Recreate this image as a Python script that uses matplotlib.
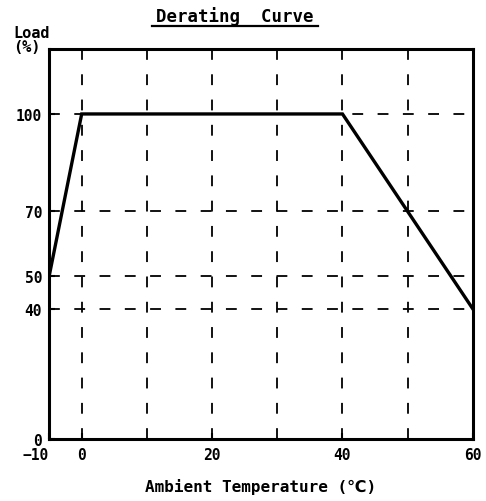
import numpy as np
import matplotlib
matplotlib.use('Agg')
import matplotlib.pyplot as plt
from matplotlib.lines import Line2D

plt.rcParams['font.family'] = ['DejaVu Sans Mono', 'DejaVu Sans']

# derating curve points
temp = [-10, 0, 40, 60]
load = [50, 100, 100, 40]

x_ticks = [-10, 0, 20, 40, 60]
y_ticks = [0, 40, 50, 70, 100]
x_grid = [0, 10, 20, 30, 40, 50]
y_grid = [40, 50, 70, 100]


# the -10..0 span is drawn at half scale on the original sheet
def fwd(x):
    x = np.asarray(x, dtype=float)
    return np.where(x < 0, x / 2, x)


def inv(x):
    x = np.asarray(x, dtype=float)
    return np.where(x < 0, x * 2, x)


fig = plt.figure(figsize=(4.86, 5.02), dpi=100)
ax = fig.add_axes([0.101, 0.1235, 0.872, 0.777])
ax.set_xscale('function', functions=(fwd, inv))
ax.set_xlim(-10, 60)
ax.set_ylim(0, 120)

for gx in x_grid:
    ax.axvline(gx, color='black', lw=1.3, ls=(0, (6, 8)), zorder=1)
for gy in y_grid:
    ax.axhline(gy, color='black', lw=1.3, ls=(0, (6, 8)), zorder=1)

ax.plot(temp, load, color='black', lw=2.4, solid_joinstyle='miter', zorder=3)

for s in ax.spines.values():
    s.set_linewidth(2.2)

ax.set_xticks(x_ticks)
ax.set_xticklabels([str(v).replace('-', '\u2212') for v in x_ticks])
ax.set_yticks(y_ticks)
ax.set_yticklabels([str(v) for v in y_ticks])
ax.tick_params(direction='in', length=4, width=1.5, labelsize=10.5, pad=5)
ax.tick_params(axis='x', pad=6)
ax.minorticks_off()

for lab in ax.get_xticklabels() + ax.get_yticklabels():
    lab.set_fontweight('bold')
ax.get_xticklabels()[0].set_horizontalalignment('right')
ax.get_xticklabels()[0].set_x(-9)

ax.set_xlabel('Ambient Temperature (\u2103)', fontsize=11.5, fontweight='bold', labelpad=11)

fig.text(0.028, 0.92, 'Load\n(%)', fontsize=11, fontweight='bold',
         ha='left', va='center', linespacing=0.9)

fig.text(0.484, 0.968, 'Derating  Curve', fontsize=12.5, fontweight='bold',
         ha='center', va='center')
fig.add_artist(Line2D([0.313, 0.655], [0.946, 0.946], color='black', lw=1.6,
                      transform=fig.transFigure))

fig.savefig('out.png', dpi=100)
